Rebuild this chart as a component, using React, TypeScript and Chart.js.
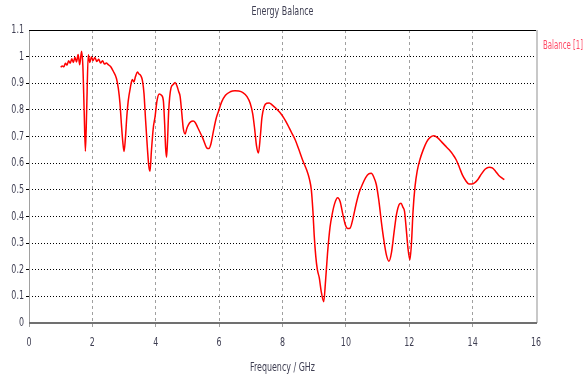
import React, { useEffect, useRef } from "react";
import { Chart, registerables } from "chart.js";

Chart.register(...registerables);

const chartTitle = "Energy Balance";
const xTitle = "Frequency / GHz";
const seriesName = "Balance [1]";

const xTickValues = [0, 2, 4, 6, 8, 10, 12, 14, 16];
const yTickValues = [0, 0.1, 0.2, 0.3, 0.4, 0.5, 0.6, 0.7, 0.8, 0.9, 1, 1.1];

const frequency = [
  1.0, 1.05, 1.1, 1.15, 1.2, 1.25, 1.3, 1.35, 1.4, 1.45, 1.5, 1.55, 1.6, 1.66, 1.7, 1.74, 1.78, 1.82, 1.87, 1.92,
  1.97, 2.02, 2.08, 2.14, 2.2, 2.26, 2.32, 2.38, 2.44, 2.5, 2.58, 2.66, 2.76, 2.82, 2.87, 2.92, 2.96, 3.0, 3.04, 3.09,
  3.13, 3.2, 3.26, 3.31, 3.36, 3.42, 3.47, 3.53, 3.58, 3.63, 3.68, 3.74, 3.78, 3.82, 3.86, 3.92, 3.98, 4.04, 4.11, 4.18,
  4.24, 4.28, 4.31, 4.34, 4.37, 4.41, 4.48, 4.55, 4.61, 4.67, 4.72, 4.77, 4.82, 4.87, 4.93, 4.98, 5.03, 5.1, 5.18, 5.25,
  5.32, 5.4, 5.48, 5.56, 5.62, 5.68, 5.74, 5.82, 5.9, 5.98, 6.08, 6.2, 6.35, 6.5, 6.62, 6.75, 6.88, 6.98, 7.06, 7.12,
  7.18, 7.24, 7.3, 7.35, 7.42, 7.5, 7.58, 7.68, 7.8, 7.92, 8.04, 8.16, 8.28, 8.4, 8.52, 8.64, 8.76, 8.85, 8.91, 8.96,
  9.0, 9.05, 9.1, 9.16, 9.22, 9.3, 9.36, 9.42, 9.5, 9.57, 9.65, 9.74, 9.82, 9.9, 9.98, 10.06, 10.13, 10.22, 10.32, 10.42,
  10.52, 10.62, 10.72, 10.8, 10.88, 10.96, 11.04, 11.12, 11.2, 11.28, 11.36, 11.44, 11.52, 11.6, 11.68, 11.74, 11.8, 11.85, 11.9, 11.96,
  12.02, 12.07, 12.12, 12.18, 12.25, 12.34, 12.44, 12.55, 12.66, 12.78, 12.9, 13.02, 13.14, 13.26, 13.38, 13.48, 13.58, 13.68, 13.78, 13.88,
  13.97, 14.06, 14.16, 14.28, 14.4, 14.52, 14.62, 14.72, 14.82, 14.92, 15.0,
];

const balance = [
  0.96, 0.965, 0.962, 0.975, 0.968, 0.985, 0.975, 0.992, 0.978, 0.998, 0.98, 1.008, 0.97, 1.02, 0.965, 0.8, 0.645, 0.8, 1.007, 0.978,
  1.0, 0.985, 0.997, 0.982, 0.99, 0.976, 0.985, 0.972, 0.976, 0.97, 0.962, 0.945, 0.918, 0.88, 0.826, 0.74, 0.68, 0.644, 0.69, 0.78,
  0.832, 0.885, 0.914, 0.905, 0.925, 0.942, 0.935, 0.928, 0.91, 0.86, 0.76, 0.65, 0.59, 0.57, 0.64, 0.73, 0.776, 0.835, 0.86, 0.855,
  0.835, 0.75, 0.66, 0.622, 0.68, 0.8, 0.882, 0.895, 0.903, 0.89, 0.87, 0.85, 0.79, 0.73, 0.71, 0.73, 0.744, 0.755, 0.758, 0.752,
  0.735, 0.715, 0.695, 0.67, 0.656, 0.655, 0.672, 0.72, 0.765, 0.795, 0.83, 0.855, 0.868, 0.872, 0.871, 0.865, 0.85, 0.825, 0.785, 0.73,
  0.665, 0.638, 0.7, 0.77, 0.812, 0.825, 0.826, 0.818, 0.805, 0.79, 0.77, 0.745, 0.716, 0.688, 0.65, 0.61, 0.575, 0.54, 0.5, 0.42,
  0.33, 0.25, 0.2, 0.17, 0.12, 0.08, 0.16, 0.26, 0.36, 0.41, 0.45, 0.47, 0.455, 0.41, 0.37, 0.355, 0.356, 0.39, 0.445, 0.49,
  0.52, 0.545, 0.56, 0.562, 0.548, 0.52, 0.46, 0.38, 0.31, 0.255, 0.232, 0.265, 0.34, 0.41, 0.445, 0.45, 0.435, 0.42, 0.36, 0.28,
  0.237, 0.3, 0.42, 0.51, 0.57, 0.615, 0.65, 0.68, 0.697, 0.703, 0.695, 0.68, 0.665, 0.65, 0.632, 0.613, 0.585, 0.555, 0.535, 0.522,
  0.522, 0.526, 0.538, 0.56, 0.578, 0.585, 0.582, 0.57, 0.555, 0.545, 0.538,
];

const FONT = "'DejaVu Sans Condensed', 'DejaVu Sans', sans-serif";
const TEXT_COLOR = "#3e3e52";

function drawSqueezed(ctx: any, text: string, x: number, y: number, squeeze: number, align: string) {
  ctx.save();
  ctx.translate(x, y);
  ctx.scale(squeeze, 1);
  ctx.textAlign = align;
  ctx.textBaseline = "middle";
  ctx.fillText(text, 0, 0);
  ctx.restore();
}

const decorPlugin = {
  id: "decor",
  beforeDatasetsDraw(chart: any) {
    const { ctx, chartArea } = chart;
    const { left, right, top, bottom } = chartArea;
    ctx.save();
    ctx.setLineDash([]);
    ctx.strokeStyle = "#a0a0a0";
    ctx.lineWidth = 1;
    ctx.beginPath();
    ctx.moveTo(left + 0.5, top);
    ctx.lineTo(left + 0.5, bottom + 4);
    ctx.stroke();
    ctx.strokeStyle = "#c8c8c8";
    ctx.lineWidth = 2;
    ctx.beginPath();
    ctx.moveTo(right + 1, top);
    ctx.lineTo(right + 1, bottom);
    ctx.stroke();
    ctx.strokeStyle = "#000000";
    ctx.lineWidth = 1;
    ctx.beginPath();
    ctx.moveTo(left, top + 0.5);
    ctx.lineTo(right, top + 0.5);
    ctx.stroke();
    ctx.strokeStyle = "#707070";
    ctx.lineWidth = 2;
    ctx.beginPath();
    ctx.moveTo(left, bottom);
    ctx.lineTo(right + 1, bottom);
    ctx.stroke();
    ctx.restore();
  },
  afterDraw(chart: any) {
    const { ctx, chartArea, scales } = chart;
    ctx.save();
    ctx.font = `12px ${FONT}`;
    const squeeze = 62 / ctx.measureText(chartTitle).width;
    const legendSqueeze = 40 / ctx.measureText(seriesName).width;
    const cx = (chartArea.left + chartArea.right) / 2;
    ctx.fillStyle = TEXT_COLOR;
    drawSqueezed(ctx, chartTitle, cx, 12, squeeze, "center");
    drawSqueezed(ctx, xTitle, cx, 368, squeeze, "center");
    ctx.fillStyle = "#ff4a66";
    drawSqueezed(ctx, seriesName, chartArea.right + 7, 46, legendSqueeze, "left");
    ctx.fillStyle = TEXT_COLOR;
    for (const v of xTickValues) {
      drawSqueezed(ctx, String(v), scales.x.getPixelForValue(v), 343, squeeze, "center");
    }
    for (const v of yTickValues) {
      drawSqueezed(ctx, String(Math.round(v * 10) / 10), chartArea.left - 5, scales.y.getPixelForValue(v), squeeze, "right");
    }
    ctx.restore();
  },
};

export default function App() {
  const canvasRef = useRef<HTMLCanvasElement | null>(null);

  useEffect(() => {
    if (!canvasRef.current) return;
    const points = frequency.map((f, i) => ({ x: f, y: balance[i] }));
    const chart = new Chart(canvasRef.current, {
      type: "line",
      data: {
        datasets: [
          {
            label: seriesName,
            data: points,
            borderColor: "#ff0000",
            borderWidth: 1.5,
            pointRadius: 0,
            fill: false,
            cubicInterpolationMode: "monotone",
          },
        ],
      },
      options: {
        animation: false,
        responsive: true,
        maintainAspectRatio: false,
        parsing: false,
        layout: { padding: { top: 30, right: 50, left: 0, bottom: 0 } },
        plugins: {
          legend: { display: false },
          title: { display: false },
          tooltip: { enabled: false },
        },
        scales: {
          x: {
            type: "linear",
            min: 0,
            max: 16,
            afterBuildTicks: (scale: any) => {
              scale.ticks = xTickValues.map((v) => ({ value: v }));
            },
            afterFit: (scale: any) => {
              scale.height = 54;
            },
            ticks: { display: false },
            grid: {
              color: (c: any) =>
                c.tick && (c.tick.value === 0 || c.tick.value === 16) ? "rgba(0,0,0,0)" : "#a0a0a0",
              lineWidth: 1,
              tickLength: 4,
              drawTicks: true,
            },
            border: { display: false, dash: [3, 3] },
          },
          y: {
            type: "linear",
            min: 0,
            max: 1.1,
            afterBuildTicks: (scale: any) => {
              scale.ticks = yTickValues.map((v) => ({ value: v }));
            },
            afterFit: (scale: any) => {
              scale.width = 29;
            },
            ticks: { display: false },
            grid: {
              color: (c: any) =>
                c.tick && (c.tick.value === 0 || Math.abs(c.tick.value - 1.1) < 1e-6) ? "rgba(0,0,0,0)" : "#000000",
              lineWidth: 1,
              tickLength: 3,
              drawTicks: true,
            },
            border: { display: false, dash: [1, 2] },
          },
        },
      },
      plugins: [decorPlugin],
    });
    return () => chart.destroy();
  }, []);

  return (
    <div style={{ position: "absolute", left: 0, top: 0, width: 586, height: 377, background: "#ffffff" }}>
      <canvas ref={canvasRef} />
    </div>
  );
}
